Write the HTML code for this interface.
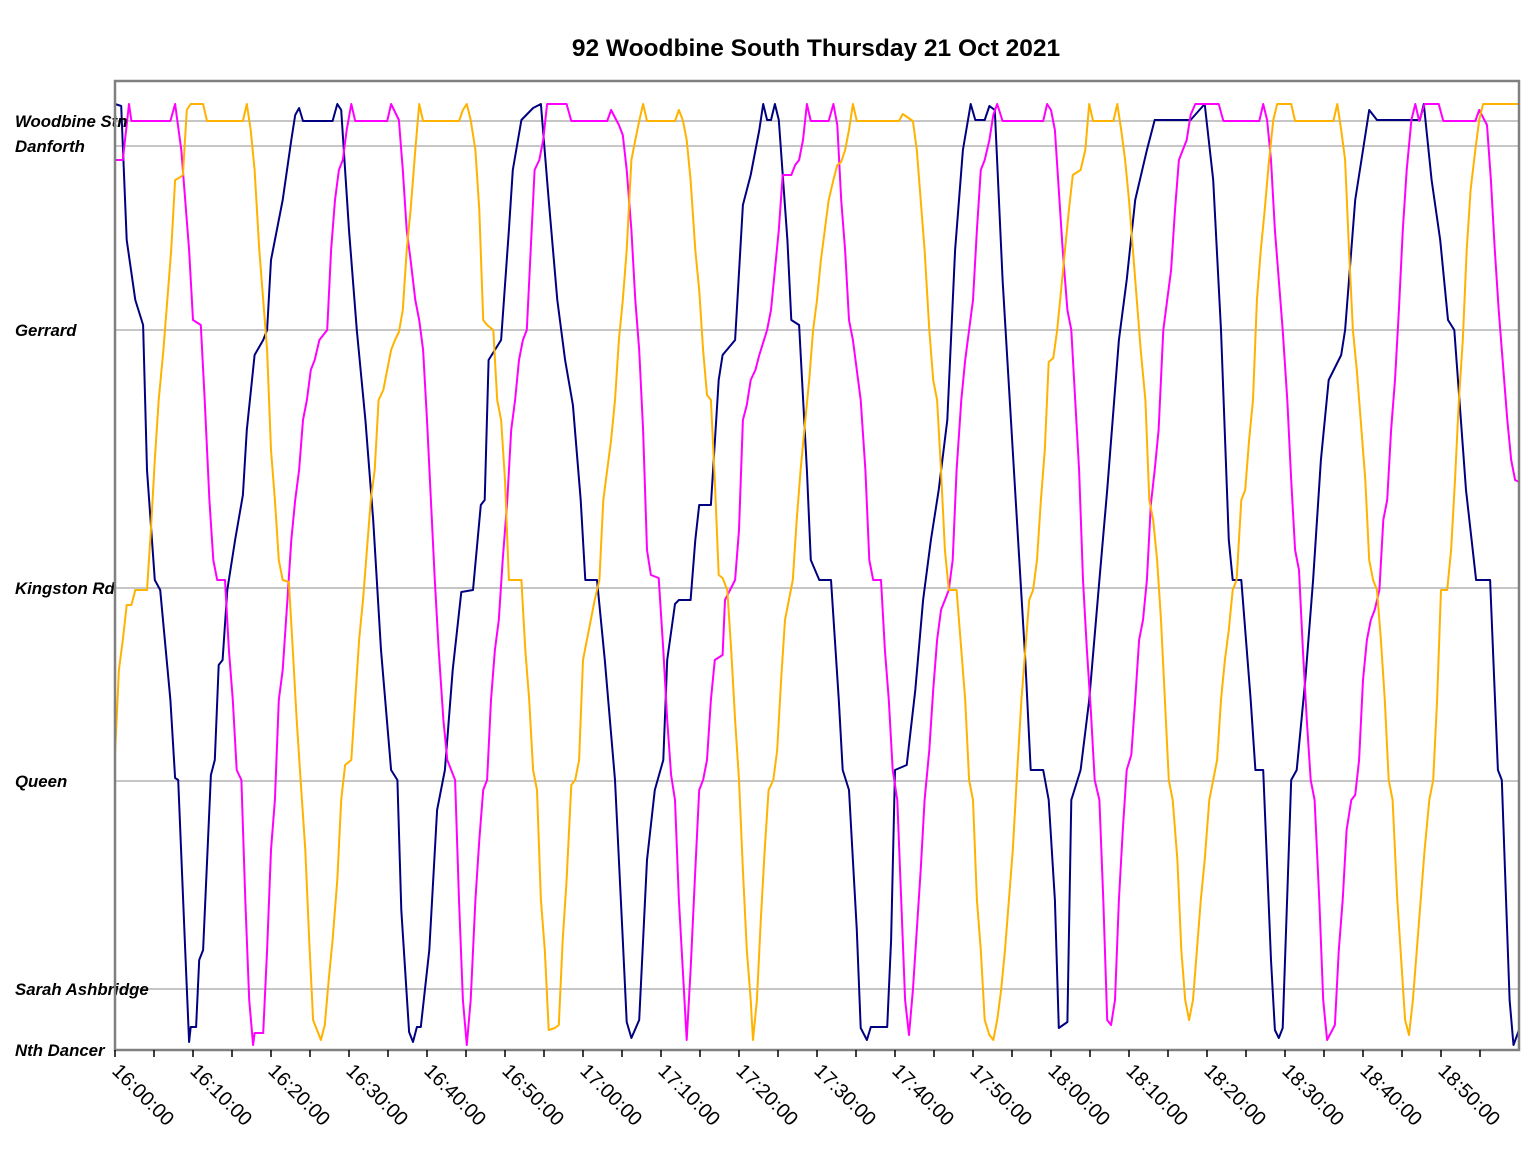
<!DOCTYPE html>
<html><head><meta charset="utf-8"><style>
body{margin:0;background:#fff;}
svg{display:block;font-family:"Liberation Sans",Arial,sans-serif;}
</style></head><body>
<svg id="chart" width="1528" height="1153">
<text x="816" y="56" text-anchor="middle" font-size="24.5" font-weight="bold">92 Woodbine South Thursday 21 Oct 2021</text>
<g id="grid"></g><g id="series"></g><g id="axes"></g>
</svg>
<script>
const stationNames=["Woodbine Stn","Danforth","Gerrard","Kingston Rd","Queen","Sarah Ashbridge","Nth Dancer"];
const stationDist=[929,904,720,462,269,61,0];
const tickLabels=["16:00:00","16:10:00","16:20:00","16:30:00","16:40:00","16:50:00","17:00:00","17:10:00","17:20:00","17:30:00","17:40:00","17:50:00","18:00:00","18:10:00","18:20:00","18:30:00","18:40:00","18:50:00"];
const navyPoints=[[0,946],[0.8,944],[1.5,810],[2.6,750],[3.6,725],[4.1,580],[5.1,470],[5.8,460],[7.1,350],[7.7,272],[8.1,270],[9.0,100],[9.5,8],[9.7,23],[10.4,23],[10.8,90],[11.3,100],[12.3,275],[12.8,290],[13.3,385],[13.8,390],[14.4,460],[15.4,510],[16.4,555],[16.9,620],[17.9,695],[19.0,710],[19.5,720],[20.0,790],[21.5,850],[22.6,910],[23.1,935],[23.6,942],[24.1,929],[27.9,929],[28.5,946],[29.0,940],[30.0,820],[31.0,720],[32.1,630],[33.1,530],[34.1,400],[35.4,280],[36.2,270],[36.7,140],[37.7,18],[38.2,8],[38.7,23],[39.2,23],[40.3,100],[41.3,240],[42.3,280],[43.3,380],[44.4,458],[45.9,460],[46.9,545],[47.4,550],[47.9,690],[49.5,710],[50.5,820],[51.0,880],[52.1,930],[53.6,942],[54.6,946],[55.6,850],[56.7,750],[57.7,690],[58.7,645],[59.7,550],[60.3,470],[61.8,470],[62.8,390],[64.1,270],[65.1,110],[65.6,28],[66.2,12],[67.2,30],[68.2,190],[69.2,260],[70.3,290],[70.8,390],[71.8,446],[72.3,450],[73.8,450],[74.4,510],[74.9,545],[76.4,545],[77.4,670],[77.9,695],[79.5,710],[80.5,845],[81.5,875],[82.6,920],[83.1,946],[83.6,930],[84.1,930],[84.6,946],[85.1,930],[86.2,810],[86.7,730],[87.7,725],[88.7,580],[89.2,490],[90.3,470],[91.8,470],[92.8,350],[93.3,280],[94.1,260],[95.1,120],[95.6,22],[96.4,10],[96.9,23],[99.0,23],[99.5,110],[100.0,280],[101.5,285],[102.6,360],[103.6,450],[104.6,510],[105.6,560],[106.7,630],[107.7,800],[108.7,900],[109.7,946],[110.3,930],[111.5,930],[112.1,944],[112.8,940],[113.8,770],[115.4,560],[116.7,390],[117.4,280],[119.0,280],[119.7,250],[120.5,150],[121.0,22],[122.1,28],[122.6,250],[123.8,280],[124.9,350],[126.2,470],[127.2,560],[128.7,710],[129.7,770],[130.8,850],[132.3,900],[133.3,930],[134.4,930],[137.9,930],[139.7,946],[140.8,870],[141.8,720],[142.8,510],[143.3,470],[144.4,470],[145.6,350],[146.2,280],[147.2,280],[148.2,90],[148.7,20],[149.2,12],[149.7,22],[150.8,270],[151.5,280],[152.6,370],[153.6,470],[154.6,590],[155.6,670],[157.2,695],[157.7,720],[159.0,850],[160.0,900],[160.8,940],[161.8,930],[167.3,930],[167.8,946],[168.8,870],[169.9,810],[170.9,730],[171.7,720],[173.2,560],[174.5,470],[176.3,470],[177.3,280],[177.8,270],[178.8,50],[179.3,5],[180,20]];
const magentaPoints=[[0,890],[1.0,890],[1.8,946],[2.1,929],[7.1,929],[7.7,946],[8.5,900],[9.5,800],[10.0,730],[11.0,725],[11.5,650],[12.1,550],[12.6,490],[13.1,470],[14.1,470],[14.6,400],[15.1,350],[15.6,280],[16.2,270],[16.7,150],[17.2,50],[17.7,5],[17.9,17],[19.0,17],[19.5,100],[20.0,200],[20.5,250],[21.0,350],[21.5,380],[22.1,450],[22.6,510],[23.1,550],[23.6,580],[24.1,630],[24.6,650],[25.1,680],[25.6,690],[26.2,710],[27.2,720],[27.7,800],[28.2,850],[28.7,880],[29.2,890],[29.7,920],[30.3,946],[30.8,929],[34.9,929],[35.4,946],[36.4,930],[36.9,880],[37.4,820],[37.9,790],[38.5,750],[39.0,730],[39.5,700],[40.0,630],[40.5,550],[41.0,470],[41.5,400],[42.1,330],[42.6,290],[43.6,270],[44.1,150],[44.6,50],[45.1,5],[45.6,50],[46.2,150],[46.7,210],[47.2,260],[47.7,270],[48.2,350],[48.7,400],[49.2,430],[49.7,490],[50.3,550],[50.8,620],[51.3,650],[51.8,690],[52.3,710],[52.8,720],[53.3,800],[53.8,880],[54.4,890],[54.9,910],[55.4,946],[57.9,946],[58.5,929],[63.1,929],[63.6,940],[64.6,925],[65.1,915],[65.6,880],[66.2,820],[66.7,750],[67.2,700],[67.7,620],[68.2,500],[68.7,475],[69.7,472],[70.3,400],[70.8,330],[71.3,275],[71.8,250],[72.3,150],[72.8,80],[73.3,10],[73.8,80],[74.4,180],[74.9,260],[75.4,270],[75.9,290],[76.4,350],[76.9,390],[77.9,395],[78.2,450],[79.5,470],[80.0,520],[80.5,630],[81.0,645],[81.5,670],[82.1,680],[82.6,695],[83.6,720],[84.1,740],[84.6,780],[85.1,820],[85.6,875],[86.7,875],[87.2,885],[87.7,890],[88.2,910],[88.7,946],[89.2,929],[91.5,929],[92.1,946],[92.6,925],[93.1,850],[93.6,800],[94.1,730],[94.6,710],[95.1,680],[95.6,650],[96.2,580],[96.7,490],[97.2,470],[98.2,470],[98.7,400],[99.2,350],[99.7,280],[100.3,250],[100.8,150],[101.3,50],[101.8,15],[102.3,60],[102.8,120],[103.3,180],[103.8,250],[104.4,300],[104.9,360],[105.4,410],[105.9,440],[106.9,460],[107.4,490],[107.9,580],[108.5,650],[109.0,690],[109.5,720],[110.0,750],[110.5,820],[111.0,880],[111.5,890],[112.1,910],[112.6,935],[113.1,946],[113.8,929],[119.0,929],[119.5,946],[120.0,940],[120.5,920],[121.0,860],[121.5,800],[122.1,740],[122.6,720],[123.1,650],[123.6,580],[124.1,470],[124.6,400],[125.1,340],[125.6,270],[126.2,250],[126.7,150],[127.2,30],[127.7,25],[128.2,50],[128.7,150],[129.2,220],[129.7,280],[130.3,295],[130.8,350],[131.3,410],[131.8,430],[132.3,470],[132.8,545],[133.3,580],[133.8,620],[134.4,720],[134.9,750],[135.4,780],[135.9,840],[136.4,890],[137.4,910],[137.9,935],[138.5,946],[141.5,946],[142.1,929],[146.7,929],[147.2,946],[147.7,930],[148.2,890],[148.7,820],[149.2,770],[149.7,720],[150.3,650],[150.8,570],[151.3,500],[151.8,480],[152.3,400],[152.8,330],[153.3,270],[153.8,250],[154.4,150],[154.9,50],[155.4,10],[156.4,25],[156.9,100],[157.4,150],[157.9,220],[158.5,250],[159.0,255],[159.5,290],[160.0,370],[160.5,410],[161.0,430],[161.5,440],[162.1,460],[162.6,530],[163.1,550],[163.6,620],[164.1,670],[164.6,740],[165.1,820],[165.6,880],[166.2,930],[166.7,946],[167.2,929],[167.9,946],[169.7,946],[170.3,929],[174.4,929],[174.9,940],[175.9,925],[176.4,870],[176.9,800],[177.4,740],[177.9,690],[178.5,630],[179.0,590],[179.5,570],[180,568]];
const orangePoints=[[0,295],[0.5,380],[1.0,410],[1.5,445],[2.1,445],[2.6,460],[4.1,460],[4.6,520],[5.1,590],[5.6,650],[6.2,700],[6.7,750],[7.2,800],[7.7,870],[8.2,872],[8.7,875],[9.2,940],[9.7,946],[11.3,946],[11.8,929],[16.4,929],[16.9,946],[17.4,920],[17.9,880],[18.5,800],[19.0,750],[19.5,700],[20.0,600],[20.5,550],[21.0,490],[21.5,470],[22.3,468],[22.8,400],[23.3,330],[23.8,270],[24.4,200],[24.9,110],[25.4,30],[25.9,20],[26.4,10],[26.9,25],[27.4,70],[27.9,110],[28.5,170],[29.0,250],[29.5,285],[30.3,290],[30.8,350],[31.3,410],[31.8,450],[32.3,500],[32.8,550],[33.3,580],[33.8,650],[34.4,660],[34.9,680],[35.4,700],[35.9,710],[36.4,718],[36.9,740],[37.4,800],[37.9,840],[38.5,900],[39.0,946],[39.5,929],[44.1,929],[44.6,940],[45.1,946],[45.6,930],[46.2,900],[46.7,840],[47.2,730],[47.7,725],[48.5,720],[49.0,650],[49.5,630],[50.0,570],[50.5,470],[52.1,470],[52.6,400],[53.1,350],[53.6,280],[54.1,260],[54.6,150],[55.1,100],[55.6,20],[56.4,22],[56.9,25],[57.4,110],[57.9,170],[58.5,265],[59.0,270],[59.5,290],[60.0,390],[60.5,410],[61.0,430],[61.5,450],[62.1,470],[62.6,550],[63.1,580],[63.6,610],[64.1,650],[64.6,710],[65.1,750],[65.6,800],[66.2,890],[66.7,910],[67.2,929],[67.7,946],[68.2,929],[71.8,929],[72.3,940],[72.8,930],[73.3,910],[73.8,870],[74.4,800],[74.9,760],[75.4,700],[75.9,655],[76.4,650],[76.9,570],[77.4,475],[77.9,472],[78.5,460],[79.0,400],[79.5,330],[80.0,270],[80.5,180],[81.0,100],[81.5,50],[81.8,10],[82.3,50],[82.8,130],[83.3,200],[83.8,260],[84.4,270],[84.9,300],[85.4,370],[85.9,430],[86.4,450],[86.9,470],[87.4,530],[87.9,580],[88.5,630],[89.0,670],[89.5,720],[90.0,750],[90.5,790],[91.0,820],[91.5,850],[92.1,870],[92.6,885],[93.1,888],[93.6,900],[94.1,920],[94.6,946],[95.1,929],[100.5,929],[101.0,936],[102.3,929],[102.8,900],[103.3,850],[103.8,800],[104.4,720],[104.9,670],[105.4,650],[105.9,580],[106.4,500],[106.9,460],[107.9,460],[108.5,400],[109.0,350],[109.5,270],[110.0,250],[110.5,150],[111.0,100],[111.5,30],[112.1,15],[112.6,10],[113.1,30],[113.6,60],[114.1,100],[114.6,150],[115.1,200],[115.6,270],[116.2,350],[116.7,400],[117.2,450],[117.7,460],[118.2,490],[118.7,550],[119.2,600],[119.7,688],[120.3,692],[120.8,720],[121.3,760],[121.8,800],[122.3,840],[122.8,875],[123.8,880],[124.4,900],[124.9,946],[125.4,929],[128.0,929],[128.5,946],[129.0,920],[129.5,890],[130.0,850],[130.5,800],[131.0,750],[131.5,700],[132.1,650],[132.6,550],[133.1,530],[133.6,490],[134.1,430],[134.6,350],[135.1,270],[135.6,250],[136.2,190],[136.7,100],[137.2,50],[137.7,30],[138.2,50],[138.7,100],[139.2,150],[139.7,190],[140.3,250],[140.8,270],[141.3,290],[141.8,350],[142.3,390],[142.8,420],[143.3,460],[143.8,470],[144.4,550],[144.9,560],[145.4,610],[145.9,650],[146.4,750],[146.9,800],[147.4,840],[147.9,885],[148.5,930],[149.0,946],[150.8,946],[151.3,929],[156.2,929],[156.7,946],[157.2,920],[157.7,890],[158.2,800],[158.7,720],[159.2,680],[159.7,630],[160.3,570],[160.8,490],[161.3,470],[161.8,460],[162.3,410],[162.8,350],[163.3,270],[163.8,250],[164.4,150],[164.9,90],[165.4,30],[165.9,15],[166.4,50],[166.9,100],[167.4,150],[167.9,200],[168.5,250],[169.0,270],[169.5,350],[170.0,460],[170.8,460],[171.3,500],[171.8,570],[172.3,650],[172.8,710],[173.3,800],[173.8,860],[174.4,900],[174.9,930],[175.4,946],[180,946]];

const NS="http://www.w3.org/2000/svg";
const L=115,R=1519,T=81,B=1050,TMAX=180,VMAX=969;
function xs(t){return L+(R-L)*t/TMAX;}
function ys(v){return B-(B-T)*v/VMAX;}
function mk(tag,attrs,parent){const e=document.createElementNS(NS,tag);for(const k in attrs)e.setAttribute(k,attrs[k]);parent.appendChild(e);return e;}
const grid=document.getElementById('grid'),axes=document.getElementById('axes'),ser=document.getElementById('series');
stationNames.forEach((n,i)=>{
  const y=ys(stationDist[i]);
  if(stationDist[i]>0){
    const g=mk('line',{x1:L,x2:R,y1:y,y2:y,stroke:'#8c8c8c','stroke-width':1},grid);
    
    
  }
  const t=mk('text',{x:15,y:y+6,'font-size':16.8,'font-weight':'bold','font-style':'italic'},axes);
  t.textContent=n;
  
  
});
const frame=mk('rect',{x:L,y:T,width:R-L,height:B-T,fill:'none',stroke:'#808080','stroke-width':2.5},axes);


for(let m=0;m<TMAX;m+=5){
  const tk=mk('line',{x1:xs(m),x2:xs(m),y1:B,y2:B+7,stroke:'#000','stroke-width':1.5},axes);
  
  
}
tickLabels.forEach((lab,i)=>{
  const x=xs(i*10)-4,y=1072;
  const t=mk('text',{x:x,y:y,'font-size':20,transform:`rotate(45 ${x} ${y})`},axes);
  t.textContent=lab;
  
  
});
[[navyPoints,'#000080','series-navy-bus'],[magentaPoints,'#ff00ff','series-magenta-bus'],[orangePoints,'#ffb300','series-orange-bus']].forEach(([pts,c,name])=>{
  const d=pts.map((p,i)=>(i?'L':'M')+xs(p[0]).toFixed(1)+','+ys(p[1]).toFixed(1)).join('');
  const p=mk('path',{d:d,fill:'none',stroke:c,'stroke-width':2,'stroke-linejoin':'round'},ser);
  
  
});
</script>
</body></html>
